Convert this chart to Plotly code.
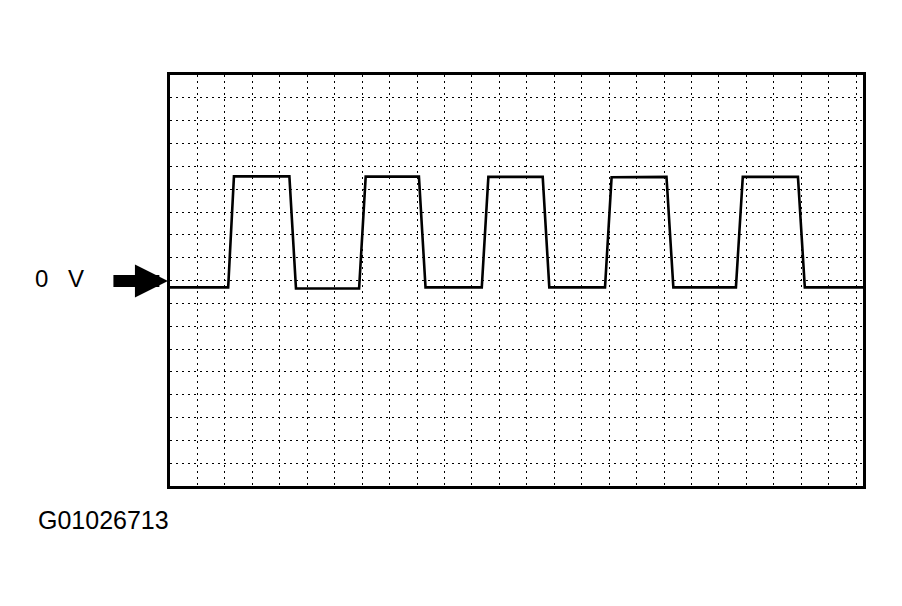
import plotly.graph_objects as go

# square wave (x in grid divisions, y in divisions above 0 V)
t_div = [0.0, 2.12, 2.33, 4.35, 4.59, 6.89, 7.13, 9.07, 9.31, 11.36, 11.60,
         13.58, 13.82, 15.85, 16.09, 18.09, 18.34, 20.62, 20.87, 22.88, 23.13, 25.25]
level = [0.0, 0.0, 4.86, 4.86, -0.05, -0.05, 4.85, 4.85, 0.0, 0.0, 4.84,
         4.84, 0.0, 0.0, 4.82, 4.84, 0.0, 0.0, 4.84, 4.84, 0.0, 0.0]

zero_label = ["0", "V"]
fig_code = "G01026713"

fig = go.Figure()
fig.add_trace(go.Scatter(
    x=t_div, y=level, mode="lines",
    line=dict(color="black", width=2.6),
    hoverinfo="skip", showlegend=False,
))

grid = dict(
    showgrid=True, gridcolor="black", gridwidth=1.2, griddash="2px,4px",
    showline=True, linecolor="black", linewidth=2.5, mirror=True,
    zeroline=False, showticklabels=False, ticks="", dtick=1,
)

# page body adds ~8px offset, so margins are pulled in to compensate
fig.update_layout(
    width=902, height=606,
    margin=dict(l=162, r=47, t=67, b=128),
    paper_bgcolor="white", plot_bgcolor="white",
    xaxis=dict(range=[0, 25.25], tick0=0, **grid),
    yaxis=dict(range=[-8.7, 9.3], tick0=0.3, **grid),
    font=dict(family="Liberation Sans, Arial, sans-serif", color="black"),
)

# "0 V" marker with arrow pointing at the zero line
fig.add_annotation(x=-0.185, y=0.504, xref="paper", yref="paper", text=zero_label[0],
                   showarrow=False, font=dict(size=24), xanchor="center", yanchor="middle")
fig.add_annotation(x=-0.135, y=0.504, xref="paper", yref="paper", text=zero_label[1],
                   showarrow=False, font=dict(size=24), xanchor="center", yanchor="middle")
fig.add_annotation(x=-0.003, y=0.499, xref="paper", yref="paper", text="",
                   showarrow=True, ax=-56, ay=0, arrowhead=2, arrowsize=0.55,
                   arrowwidth=12, arrowcolor="black", standoff=0)

fig.add_annotation(x=-0.194, y=-0.044, xref="paper", yref="paper", text=fig_code,
                   showarrow=False, font=dict(size=25), xanchor="left", yanchor="top")

fig.write_html("out.html")
